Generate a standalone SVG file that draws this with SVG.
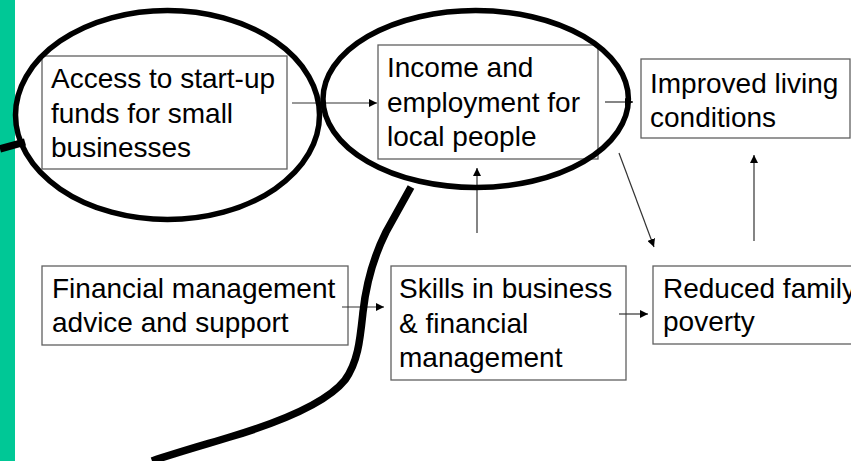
<svg xmlns="http://www.w3.org/2000/svg" width="851" height="461" viewBox="0 0 851 461">
<style>
.box{fill:#fff;stroke:#606060;stroke-width:1.3}
.t{font-family:"Liberation Sans",Arial,sans-serif;font-size:28px;fill:#000}
.c{stroke:#333;stroke-width:1.2;fill:none}
.ov{fill:none;stroke:#000;stroke-width:5.5}
.thick{fill:none;stroke:#000;stroke-width:7.5;stroke-linecap:butt}
</style>
<defs>
<marker id="ah" viewBox="0 0 10 10" refX="10" refY="5" markerWidth="8" markerHeight="8" markerUnits="userSpaceOnUse" orient="auto">
<path d="M0,0 L10,5 L0,10 z" fill="#000"/>
</marker>
</defs>
<rect x="0" y="0" width="851" height="461" fill="#fff"/>
<rect x="0" y="0" width="15" height="461" fill="#00C896"/>
<g id="n-access">
<rect class="box" x="42" y="56" width="245" height="113"/>
<text class="t" x="51" y="88">Access to start-up</text>
<text class="t" x="51" y="123">funds for small</text>
<text class="t" x="51" y="157">businesses</text>
</g>
<g id="n-income">
<rect class="box" x="378" y="45" width="220" height="114"/>
<text class="t" x="387" y="77">Income and</text>
<text class="t" x="387" y="112">employment for</text>
<text class="t" x="387" y="146">local people</text>
</g>
<g id="n-improved">
<rect class="box" x="641" y="59" width="209" height="79"/>
<text class="t" x="650" y="93">Improved living</text>
<text class="t" x="650" y="127">conditions</text>
</g>
<g id="n-financial">
<rect class="box" x="42" y="266" width="306" height="79"/>
<text class="t" x="52" y="298">Financial management</text>
<text class="t" x="52" y="332">advice and support</text>
</g>
<g id="n-skills">
<rect class="box" x="391" y="266" width="235" height="114"/>
<text class="t" x="399" y="298">Skills in business</text>
<text class="t" x="399" y="333">&amp; financial</text>
<text class="t" x="399" y="367">management</text>
</g>
<g id="n-reduced">
<rect class="box" x="653" y="266" width="210" height="78"/>
<text class="t" x="663" y="298">Reduced family</text>
<text class="t" x="663" y="331">poverty</text>
</g>
<g id="connectors">
<line class="c" x1="292" y1="103" x2="377" y2="103" marker-end="url(#ah)"/>
<line class="c" x1="605" y1="102" x2="633" y2="102" marker-end="url(#ah)"/>
<line class="c" x1="477" y1="233" x2="477" y2="168" marker-end="url(#ah)"/>
<line class="c" x1="619" y1="153" x2="654" y2="247" marker-end="url(#ah)"/>
<line class="c" x1="754" y1="241" x2="754" y2="155" marker-end="url(#ah)"/>
<line class="c" x1="342" y1="307" x2="384" y2="307" marker-end="url(#ah)"/>
<line class="c" x1="619" y1="314" x2="648" y2="314" marker-end="url(#ah)"/>
</g>
<g id="highlights">
<ellipse class="ov" cx="167.5" cy="115" rx="152" ry="104.5"/>
<ellipse class="ov" cx="475.7" cy="99" rx="152.7" ry="88.5"/>
<path class="thick" d="M411,187 L386,232 C372,260 366,285 363,312 C360,340 358,362 345,380 C325,405 270,425 230,437 C200,446 175,453 152,461"/>
<path class="thick" d="M0,149 L25,142"/>
</g>
</svg>
